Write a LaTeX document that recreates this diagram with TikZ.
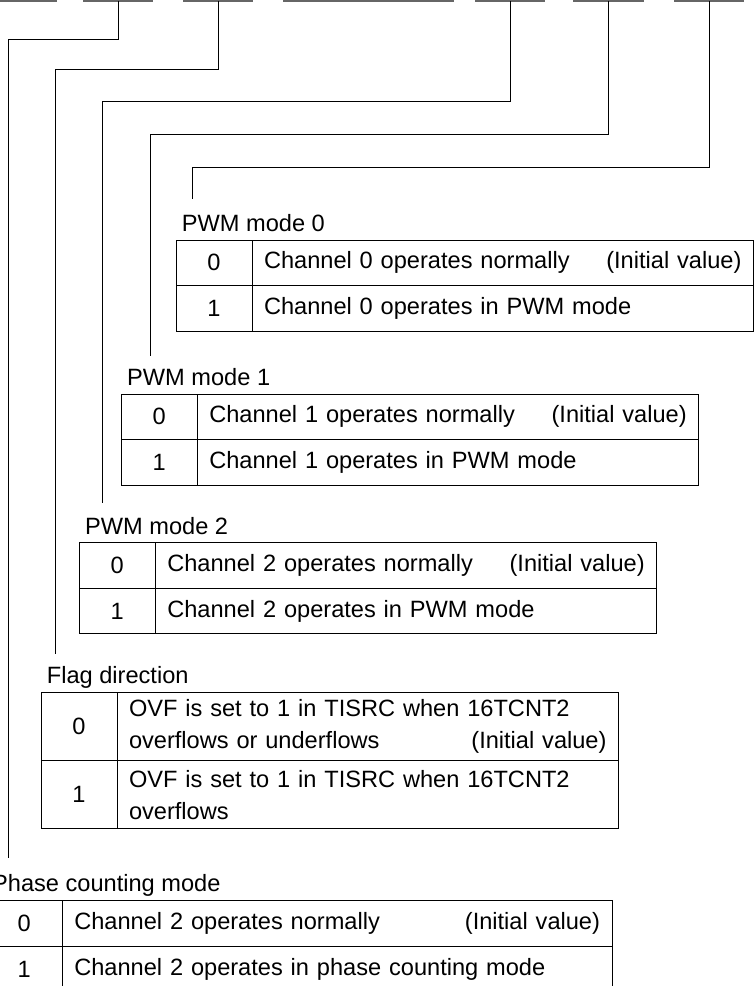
\documentclass[tikz,border=0pt]{standalone}
\usepackage{fontspec}
\setmainfont{Liberation Sans}
\usepackage{tikz}
\usetikzlibrary{positioning}
\newcommand{\initval}{\hskip 0pt plus 1filll (Initial value)}

\begin{document}
\begin{tikzpicture}[
    x=0.5pt, y=-0.5pt,
    font=\fontsize{11.8}{16}\selectfont,
    bitbar/.style={line width=1pt, black!60},
    lead/.style={line width=0.5pt},
    cell/.style={draw, line width=0.5pt, outer sep=0pt, inner sep=0pt},
    valcell/.style={cell, minimum width=38pt, minimum height=22.75pt},
    desccell/.style={cell, minimum height=22.75pt, text width=238.75pt, inner xsep=6pt, inner ysep=2pt, align=left},
    title/.style={anchor=base west, inner sep=0pt}
  ]
  \useasboundingbox (0,0) rectangle (754,986);

  \foreach \a/\b [count=\i] in {0/57,83/153,183/253,283/454,475/545,573/644,674/744}{
    \draw[bitbar] (\a,1.3) -- (\b,1.3);
    \coordinate (bit\i) at ({(\a+\b)/2},1.3);
  }

  \node[valcell, anchor=north west] (pwm0a) at (176,240) {0};
  \node[desccell, right=0pt of pwm0a] (pwm0ta) {Channel 0 operates normally\initval};
  \node[valcell, below=0pt of pwm0a] (pwm0b) {1};
  \node[desccell, right=0pt of pwm0b] (pwm0tb) {Channel 0 operates in PWM mode};
  \node[title] (pwm0) at ([shift={(5.5,-8.5)}]pwm0a.north west) {PWM mode 0};

  \node[valcell, anchor=north west] (pwm1a) at (121.3,394) {0};
  \node[desccell, right=0pt of pwm1a] (pwm1ta) {Channel 1 operates normally\initval};
  \node[valcell, below=0pt of pwm1a] (pwm1b) {1};
  \node[desccell, right=0pt of pwm1b] (pwm1tb) {Channel 1 operates in PWM mode};
  \node[title] (pwm1) at ([shift={(5.5,-8.5)}]pwm1a.north west) {PWM mode 1};

  \node[valcell, anchor=north west] (pwm2a) at (79.3,542.7) {0};
  \node[desccell, right=0pt of pwm2a] (pwm2ta) {Channel 2 operates normally\initval};
  \node[valcell, below=0pt of pwm2a] (pwm2b) {1};
  \node[desccell, right=0pt of pwm2b] (pwm2tb) {Channel 2 operates in PWM mode};
  \node[title] (pwm2) at ([shift={(5.5,-8.5)}]pwm2a.north west) {PWM mode 2};

  \node[valcell, minimum height=34.1pt, anchor=north west] (flaga) at (41,692.3) {0};
  \node[desccell, minimum height=34.1pt, right=0pt of flaga] (flagta) {OVF is set to 1 in TISRC when 16TCNT2\\overflows or underflows\initval};
  \node[valcell, minimum height=34.1pt, below=0pt of flaga] (flagb) {1};
  \node[desccell, minimum height=34.1pt, right=0pt of flagb] (flagtb) {OVF is set to 1 in TISRC when 16TCNT2\\overflows};
  \node[title] (flag) at ([shift={(5.5,-8.5)}]flaga.north west) {Flag direction};

  \node[valcell, minimum height=23pt, anchor=north west] (phasea) at (-13.7,900) {0};
  \node[desccell, minimum height=23pt, text width=262.85pt, right=0pt of phasea] (phaseta) {Channel 2 operates normally\initval};
  \node[valcell, minimum height=23pt, below=0pt of phasea] (phaseb) {1};
  \node[desccell, minimum height=23pt, text width=262.85pt, right=0pt of phaseb] (phasetb) {Channel 2 operates in phase counting mode};
  \node[title] (phase) at ([shift={(5.5,-8.5)}]phasea.north west) {Phase counting mode};

  \coordinate (end0) at (192.7,199.3);
  \coordinate (end1) at (150.7,356);
  \coordinate (end2) at (102.7,503);
  \coordinate (end3) at (55,654.3);
  \coordinate (end4) at (8.3,858.3);
  \draw[lead] (bit7) -- ++(0,166) -| (end0);
  \draw[lead] (bit6) -- ++(0,132.7) -| (end1);
  \draw[lead] (bit5) -- ++(0,100.5) -| (end2);
  \draw[lead] (bit3) -- ++(0,68.4) -| (end3);
  \draw[lead] (bit2) -- ++(0,38) -| (end4);
\end{tikzpicture}
\end{document}
